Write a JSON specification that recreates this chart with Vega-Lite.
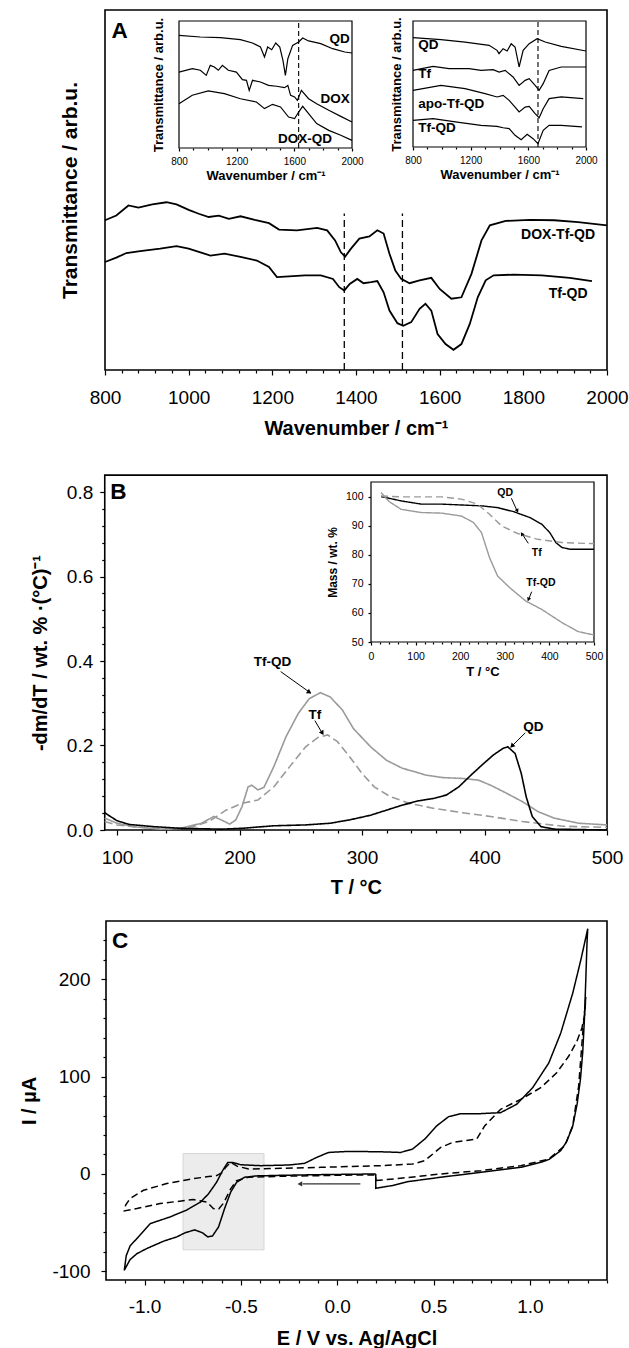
{
"$schema":"https://vega.github.io/schema/vega-lite/v6.json",
"width":629,"height":1348,"autosize":{"type":"none"},"padding":0,"background":"white",
"config":{"view":{"stroke":null},"font":"Liberation Sans",
 "axis":{"labelFont":"Liberation Sans","titleFont":"Liberation Sans","labelColor":"black","titleColor":"black","tickColor":"black","domainColor":"black","grid":false,"minExtent":0,"labelOverlap":false,"labelFlush":false,"tickWidth":1.2},
 "text":{"font":"Liberation Sans","fontWeight":"bold","color":"black"}},
"datasets":{
"aMain":[
{"s":"DOX-Tf-QD","w":800,"t":41.6},{"s":"DOX-Tf-QD","w":827,"t":42.9},{"s":"DOX-Tf-QD","w":856,"t":45.7},{"s":"DOX-Tf-QD","w":880,"t":45.1},{"s":"DOX-Tf-QD","w":913,"t":46.0},{"s":"DOX-Tf-QD","w":947,"t":46.6},{"s":"DOX-Tf-QD","w":971,"t":46.0},{"s":"DOX-Tf-QD","w":1000,"t":44.5},{"s":"DOX-Tf-QD","w":1024,"t":43.4},{"s":"DOX-Tf-QD","w":1048,"t":42.5},{"s":"DOX-Tf-QD","w":1072,"t":42.9},{"s":"DOX-Tf-QD","w":1096,"t":42.0},{"s":"DOX-Tf-QD","w":1124,"t":42.7},{"s":"DOX-Tf-QD","w":1158,"t":41.7},{"s":"DOX-Tf-QD","w":1192,"t":40.8},{"s":"DOX-Tf-QD","w":1216,"t":39.0},{"s":"DOX-Tf-QD","w":1259,"t":38.8},{"s":"DOX-Tf-QD","w":1307,"t":39.5},{"s":"DOX-Tf-QD","w":1331,"t":38.8},{"s":"DOX-Tf-QD","w":1350,"t":36.0},{"s":"DOX-Tf-QD","w":1364,"t":32.7},{"s":"DOX-Tf-QD","w":1374,"t":31.5},{"s":"DOX-Tf-QD","w":1388,"t":33.7},{"s":"DOX-Tf-QD","w":1408,"t":36.5},{"s":"DOX-Tf-QD","w":1432,"t":37.1},{"s":"DOX-Tf-QD","w":1451,"t":38.8},{"s":"DOX-Tf-QD","w":1466,"t":37.9},{"s":"DOX-Tf-QD","w":1480,"t":32.3},{"s":"DOX-Tf-QD","w":1494,"t":27.6},{"s":"DOX-Tf-QD","w":1508,"t":25.3},{"s":"DOX-Tf-QD","w":1528,"t":24.1},{"s":"DOX-Tf-QD","w":1552,"t":24.9},{"s":"DOX-Tf-QD","w":1580,"t":25.6},{"s":"DOX-Tf-QD","w":1600,"t":22.5},{"s":"DOX-Tf-QD","w":1628,"t":19.8},{"s":"DOX-Tf-QD","w":1652,"t":20.2},{"s":"DOX-Tf-QD","w":1676,"t":26.7},{"s":"DOX-Tf-QD","w":1700,"t":36.0},{"s":"DOX-Tf-QD","w":1720,"t":40.2},{"s":"DOX-Tf-QD","w":1758,"t":41.4},{"s":"DOX-Tf-QD","w":1816,"t":41.7},{"s":"DOX-Tf-QD","w":1874,"t":41.6},{"s":"DOX-Tf-QD","w":1931,"t":41.1},{"s":"DOX-Tf-QD","w":2000,"t":40.2},
{"s":"Tf-QD","w":800,"t":30.0},{"s":"Tf-QD","w":827,"t":31.2},{"s":"Tf-QD","w":851,"t":32.5},{"s":"Tf-QD","w":884,"t":33.0},{"s":"Tf-QD","w":932,"t":33.7},{"s":"Tf-QD","w":971,"t":34.4},{"s":"Tf-QD","w":1000,"t":33.7},{"s":"Tf-QD","w":1028,"t":32.7},{"s":"Tf-QD","w":1052,"t":31.8},{"s":"Tf-QD","w":1086,"t":32.3},{"s":"Tf-QD","w":1124,"t":31.4},{"s":"Tf-QD","w":1163,"t":30.4},{"s":"Tf-QD","w":1192,"t":28.6},{"s":"Tf-QD","w":1211,"t":25.8},{"s":"Tf-QD","w":1240,"t":26.0},{"s":"Tf-QD","w":1278,"t":26.3},{"s":"Tf-QD","w":1316,"t":26.3},{"s":"Tf-QD","w":1345,"t":25.3},{"s":"Tf-QD","w":1360,"t":23.0},{"s":"Tf-QD","w":1372,"t":22.1},{"s":"Tf-QD","w":1385,"t":23.9},{"s":"Tf-QD","w":1403,"t":25.3},{"s":"Tf-QD","w":1418,"t":24.1},{"s":"Tf-QD","w":1436,"t":24.4},{"s":"Tf-QD","w":1451,"t":24.7},{"s":"Tf-QD","w":1466,"t":21.6},{"s":"Tf-QD","w":1480,"t":16.5},{"s":"Tf-QD","w":1499,"t":13.0},{"s":"Tf-QD","w":1513,"t":12.3},{"s":"Tf-QD","w":1532,"t":13.3},{"s":"Tf-QD","w":1552,"t":17.0},{"s":"Tf-QD","w":1566,"t":18.4},{"s":"Tf-QD","w":1580,"t":16.5},{"s":"Tf-QD","w":1595,"t":10.0},{"s":"Tf-QD","w":1614,"t":7.2},{"s":"Tf-QD","w":1633,"t":5.6},{"s":"Tf-QD","w":1652,"t":7.2},{"s":"Tf-QD","w":1672,"t":12.8},{"s":"Tf-QD","w":1691,"t":20.2},{"s":"Tf-QD","w":1710,"t":24.9},{"s":"Tf-QD","w":1729,"t":26.3},{"s":"Tf-QD","w":1777,"t":26.5},{"s":"Tf-QD","w":1844,"t":26.3},{"s":"Tf-QD","w":1911,"t":25.6},{"s":"Tf-QD","w":1964,"t":24.7}],
"aMainLab":[{"w":1883,"t":37.4,"label":"DOX-Tf-QD"},{"w":1907,"t":21.2,"label":"Tf-QD"}],
"aIn1":[
{"s":"QD","w":800,"t":88.7},{"s":"QD","w":948,"t":87.4},{"s":"QD","w":1087,"t":86.9},{"s":"QD","w":1226,"t":85.3},{"s":"QD","w":1310,"t":82.7},{"s":"QD","w":1365,"t":79.5},{"s":"QD","w":1393,"t":71.7},{"s":"QD","w":1415,"t":79.5},{"s":"QD","w":1443,"t":77.4},{"s":"QD","w":1471,"t":82.7},{"s":"QD","w":1499,"t":79.5},{"s":"QD","w":1521,"t":69.0},{"s":"QD","w":1538,"t":57.2},{"s":"QD","w":1555,"t":70.3},{"s":"QD","w":1588,"t":80.8},{"s":"QD","w":1630,"t":83.5},{"s":"QD","w":1658,"t":86.6},{"s":"QD","w":1699,"t":84.3},{"s":"QD","w":1783,"t":82.2},{"s":"QD","w":1866,"t":78.2},{"s":"QD","w":1950,"t":75.6},{"s":"QD","w":2000,"t":74.8},
{"s":"DOX","w":800,"t":59.8},{"s":"DOX","w":892,"t":62.5},{"s":"DOX","w":948,"t":61.2},{"s":"DOX","w":989,"t":57.2},{"s":"DOX","w":1017,"t":65.1},{"s":"DOX","w":1045,"t":63.8},{"s":"DOX","w":1073,"t":61.2},{"s":"DOX","w":1101,"t":65.1},{"s":"DOX","w":1142,"t":61.2},{"s":"DOX","w":1198,"t":59.8},{"s":"DOX","w":1240,"t":53.8},{"s":"DOX","w":1268,"t":53.3},{"s":"DOX","w":1287,"t":45.4},{"s":"DOX","w":1310,"t":53.3},{"s":"DOX","w":1365,"t":52.0},{"s":"DOX","w":1421,"t":49.3},{"s":"DOX","w":1477,"t":48.6},{"s":"DOX","w":1532,"t":47.5},{"s":"DOX","w":1555,"t":49.3},{"s":"DOX","w":1574,"t":41.5},{"s":"DOX","w":1602,"t":40.2},{"s":"DOX","w":1621,"t":37.5},{"s":"DOX","w":1649,"t":45.4},{"s":"DOX","w":1699,"t":38.8},{"s":"DOX","w":1755,"t":34.9},{"s":"DOX","w":1839,"t":29.7},{"s":"DOX","w":1922,"t":24.9},{"s":"DOX","w":2000,"t":20.5},
{"s":"DOX-QD","w":800,"t":34.9},{"s":"DOX-QD","w":892,"t":41.5},{"s":"DOX-QD","w":1003,"t":44.9},{"s":"DOX-QD","w":1115,"t":42.8},{"s":"DOX-QD","w":1226,"t":38.8},{"s":"DOX-QD","w":1337,"t":36.2},{"s":"DOX-QD","w":1393,"t":31.0},{"s":"DOX-QD","w":1449,"t":34.4},{"s":"DOX-QD","w":1504,"t":32.3},{"s":"DOX-QD","w":1560,"t":24.4},{"s":"DOX-QD","w":1602,"t":23.1},{"s":"DOX-QD","w":1630,"t":28.3},{"s":"DOX-QD","w":1658,"t":32.8},{"s":"DOX-QD","w":1699,"t":27.0},{"s":"DOX-QD","w":1755,"t":19.2},{"s":"DOX-QD","w":1839,"t":13.9},{"s":"DOX-QD","w":1922,"t":10.0},{"s":"DOX-QD","w":2000,"t":6.0}],
"aIn1Lab":[{"w":1914,"t":86.1,"label":"QD"},{"w":1883,"t":38.8,"label":"DOX"},{"w":1674,"t":7.1,"label":"DOX-QD"}],
"aIn2":[
{"s":"QD","w":800,"t":86.8},{"s":"QD","w":994,"t":85.2},{"s":"QD","w":1161,"t":83.3},{"s":"QD","w":1328,"t":80.7},{"s":"QD","w":1383,"t":76.7},{"s":"QD","w":1397,"t":74.1},{"s":"QD","w":1425,"t":78.0},{"s":"QD","w":1453,"t":76.2},{"s":"QD","w":1481,"t":82.0},{"s":"QD","w":1508,"t":79.4},{"s":"QD","w":1536,"t":63.5},{"s":"QD","w":1564,"t":76.7},{"s":"QD","w":1606,"t":82.0},{"s":"QD","w":1661,"t":86.0},{"s":"QD","w":1717,"t":83.3},{"s":"QD","w":1828,"t":79.9},{"s":"QD","w":2000,"t":76.2},
{"s":"Tf","w":800,"t":60.8},{"s":"Tf","w":939,"t":64.0},{"s":"Tf","w":1050,"t":62.2},{"s":"Tf","w":1189,"t":62.2},{"s":"Tf","w":1272,"t":60.8},{"s":"Tf","w":1356,"t":61.4},{"s":"Tf","w":1397,"t":59.5},{"s":"Tf","w":1439,"t":60.8},{"s":"Tf","w":1494,"t":55.6},{"s":"Tf","w":1536,"t":48.9},{"s":"Tf","w":1578,"t":52.9},{"s":"Tf","w":1606,"t":54.2},{"s":"Tf","w":1647,"t":48.9},{"s":"Tf","w":1675,"t":45.0},{"s":"Tf","w":1703,"t":50.3},{"s":"Tf","w":1744,"t":60.8},{"s":"Tf","w":1828,"t":63.5},{"s":"Tf","w":2000,"t":63.5},
{"s":"apo-Tf-QD","w":800,"t":45.0},{"s":"apo-Tf-QD","w":994,"t":48.9},{"s":"apo-Tf-QD","w":1161,"t":46.3},{"s":"apo-Tf-QD","w":1300,"t":42.3},{"s":"apo-Tf-QD","w":1383,"t":39.7},{"s":"apo-Tf-QD","w":1425,"t":41.0},{"s":"apo-Tf-QD","w":1467,"t":37.0},{"s":"apo-Tf-QD","w":1508,"t":31.7},{"s":"apo-Tf-QD","w":1536,"t":27.8},{"s":"apo-Tf-QD","w":1578,"t":31.7},{"s":"apo-Tf-QD","w":1606,"t":32.3},{"s":"apo-Tf-QD","w":1647,"t":26.5},{"s":"apo-Tf-QD","w":1675,"t":23.3},{"s":"apo-Tf-QD","w":1703,"t":30.4},{"s":"apo-Tf-QD","w":1744,"t":38.4},{"s":"apo-Tf-QD","w":1828,"t":39.7},{"s":"apo-Tf-QD","w":1981,"t":38.4},
{"s":"Tf-QD","w":800,"t":21.2},{"s":"Tf-QD","w":939,"t":22.5},{"s":"Tf-QD","w":1106,"t":19.8},{"s":"Tf-QD","w":1272,"t":17.2},{"s":"Tf-QD","w":1383,"t":16.4},{"s":"Tf-QD","w":1425,"t":15.3},{"s":"Tf-QD","w":1467,"t":14.6},{"s":"Tf-QD","w":1508,"t":9.3},{"s":"Tf-QD","w":1550,"t":5.8},{"s":"Tf-QD","w":1592,"t":10.1},{"s":"Tf-QD","w":1633,"t":6.6},{"s":"Tf-QD","w":1667,"t":2.6},{"s":"Tf-QD","w":1703,"t":13.2},{"s":"Tf-QD","w":1744,"t":17.2},{"s":"Tf-QD","w":1828,"t":17.2},{"s":"Tf-QD","w":1972,"t":15.9}],
"aIn2Lab":[{"w":836,"t":80.7,"label":"QD"},{"w":836,"t":58.2,"label":"Tf"},{"w":836,"t":33.9,"label":"apo-Tf-QD"},{"w":836,"t":15.1,"label":"Tf-QD"}],
"bMain":[
{"s":"Tf-QD","T":90,"v":0.028},{"s":"Tf-QD","T":100,"v":0.016},{"s":"Tf-QD","T":113,"v":0.008},{"s":"Tf-QD","T":136,"v":0.002},{"s":"Tf-QD","T":152,"v":0.004},{"s":"Tf-QD","T":169,"v":0.016},{"s":"Tf-QD","T":179,"v":0.032},{"s":"Tf-QD","T":185,"v":0.024},{"s":"Tf-QD","T":192,"v":0.014},{"s":"Tf-QD","T":197,"v":0.024},{"s":"Tf-QD","T":202,"v":0.055},{"s":"Tf-QD","T":207,"v":0.102},{"s":"Tf-QD","T":210,"v":0.106},{"s":"Tf-QD","T":215,"v":0.095},{"s":"Tf-QD","T":220,"v":0.101},{"s":"Tf-QD","T":228,"v":0.150},{"s":"Tf-QD","T":238,"v":0.221},{"s":"Tf-QD","T":248,"v":0.276},{"s":"Tf-QD","T":257,"v":0.311},{"s":"Tf-QD","T":266,"v":0.325},{"s":"Tf-QD","T":274,"v":0.315},{"s":"Tf-QD","T":284,"v":0.284},{"s":"Tf-QD","T":293,"v":0.240},{"s":"Tf-QD","T":307,"v":0.197},{"s":"Tf-QD","T":320,"v":0.165},{"s":"Tf-QD","T":333,"v":0.146},{"s":"Tf-QD","T":343,"v":0.138},{"s":"Tf-QD","T":352,"v":0.130},{"s":"Tf-QD","T":366,"v":0.124},{"s":"Tf-QD","T":382,"v":0.122},{"s":"Tf-QD","T":395,"v":0.118},{"s":"Tf-QD","T":405,"v":0.106},{"s":"Tf-QD","T":418,"v":0.087},{"s":"Tf-QD","T":431,"v":0.067},{"s":"Tf-QD","T":444,"v":0.043},{"s":"Tf-QD","T":457,"v":0.028},{"s":"Tf-QD","T":477,"v":0.016},{"s":"Tf-QD","T":500,"v":0.012},
{"s":"Tf","T":90,"v":0.020},{"s":"Tf","T":100,"v":0.012},{"s":"Tf","T":120,"v":0.006},{"s":"Tf","T":143,"v":0.002},{"s":"Tf","T":162,"v":0.008},{"s":"Tf","T":175,"v":0.020},{"s":"Tf","T":189,"v":0.047},{"s":"Tf","T":202,"v":0.063},{"s":"Tf","T":215,"v":0.071},{"s":"Tf","T":228,"v":0.102},{"s":"Tf","T":241,"v":0.150},{"s":"Tf","T":254,"v":0.197},{"s":"Tf","T":264,"v":0.219},{"s":"Tf","T":272,"v":0.225},{"s":"Tf","T":280,"v":0.209},{"s":"Tf","T":290,"v":0.173},{"s":"Tf","T":300,"v":0.134},{"s":"Tf","T":310,"v":0.102},{"s":"Tf","T":323,"v":0.079},{"s":"Tf","T":339,"v":0.063},{"s":"Tf","T":359,"v":0.051},{"s":"Tf","T":382,"v":0.041},{"s":"Tf","T":405,"v":0.032},{"s":"Tf","T":431,"v":0.020},{"s":"Tf","T":464,"v":0.009},{"s":"Tf","T":500,"v":0.006},
{"s":"QD","T":90,"v":0.041},{"s":"QD","T":93,"v":0.035},{"s":"QD","T":100,"v":0.022},{"s":"QD","T":110,"v":0.013},{"s":"QD","T":130,"v":0.008},{"s":"QD","T":152,"v":0.004},{"s":"QD","T":185,"v":0.002},{"s":"QD","T":202,"v":0.004},{"s":"QD","T":228,"v":0.010},{"s":"QD","T":254,"v":0.012},{"s":"QD","T":274,"v":0.016},{"s":"QD","T":290,"v":0.024},{"s":"QD","T":307,"v":0.035},{"s":"QD","T":320,"v":0.047},{"s":"QD","T":333,"v":0.059},{"s":"QD","T":346,"v":0.069},{"s":"QD","T":359,"v":0.075},{"s":"QD","T":369,"v":0.083},{"s":"QD","T":379,"v":0.102},{"s":"QD","T":389,"v":0.130},{"s":"QD","T":398,"v":0.154},{"s":"QD","T":407,"v":0.177},{"s":"QD","T":415,"v":0.193},{"s":"QD","T":419,"v":0.197},{"s":"QD","T":425,"v":0.181},{"s":"QD","T":430,"v":0.134},{"s":"QD","T":434,"v":0.079},{"s":"QD","T":439,"v":0.032},{"s":"QD","T":446,"v":0.008},{"s":"QD","T":457,"v":0.002},{"s":"QD","T":500,"v":0.0}],
"bMainLab":[{"T":227,"v":0.398,"label":"Tf-QD"},{"T":261.5,"v":0.272,"label":"Tf"},{"T":439.8,"v":0.243,"label":"QD"}],
"bMainArr":[{"T":233.6,"v":0.375,"T2":258.2,"v2":0.324},{"T":261.5,"v":0.259,"T2":268,"v2":0.227},{"T":433.3,"v":0.230,"T2":421.8,"v2":0.197}],
"bIn":[
{"s":"QD","T":22.5,"m":100},{"s":"QD","T":67.6,"m":98.5},{"s":"QD","T":112.6,"m":97.4},{"s":"QD","T":157.7,"m":97.4},{"s":"QD","T":202.7,"m":97.1},{"s":"QD","T":247.7,"m":96.8},{"s":"QD","T":283.8,"m":96.2},{"s":"QD","T":319.8,"m":94.8},{"s":"QD","T":355.9,"m":92.8},{"s":"QD","T":382.9,"m":90.5},{"s":"QD","T":400.9,"m":87.6},{"s":"QD","T":414.4,"m":84.2},{"s":"QD","T":427.9,"m":82.5},{"s":"QD","T":446,"m":81.9},{"s":"QD","T":500,"m":81.9},
{"s":"Tf","T":22.5,"m":100.2},{"s":"Tf","T":67.6,"m":99.9},{"s":"Tf","T":157.7,"m":99.9},{"s":"Tf","T":202.7,"m":99.1},{"s":"Tf","T":238.7,"m":97.4},{"s":"Tf","T":265.8,"m":93.9},{"s":"Tf","T":292.8,"m":89.9},{"s":"Tf","T":328.8,"m":87.3},{"s":"Tf","T":373.9,"m":85.3},{"s":"Tf","T":427.9,"m":84.2},{"s":"Tf","T":500,"m":83.8},
{"s":"Tf-QD","T":22.5,"m":101.4},{"s":"Tf-QD","T":40.5,"m":98.3},{"s":"Tf-QD","T":67.6,"m":95.6},{"s":"Tf-QD","T":112.6,"m":94.5},{"s":"Tf-QD","T":157.7,"m":94.3},{"s":"Tf-QD","T":202.7,"m":93.3},{"s":"Tf-QD","T":229.7,"m":91.1},{"s":"Tf-QD","T":247.7,"m":87.6},{"s":"Tf-QD","T":265.8,"m":79.0},{"s":"Tf-QD","T":283.8,"m":72.7},{"s":"Tf-QD","T":310.8,"m":68.7},{"s":"Tf-QD","T":346.8,"m":64.1},{"s":"Tf-QD","T":382.9,"m":61.2},{"s":"Tf-QD","T":427.9,"m":56.7},{"s":"Tf-QD","T":463.9,"m":53.6},{"s":"Tf-QD","T":500,"m":52.4}],
"bInLab":[{"T":301,"m":101.1,"label":"QD"},{"T":371.5,"m":80.5,"label":"Tf"},{"T":381,"m":70.4,"label":"Tf-QD"}],
"bInArr":[{"T":314.8,"m":99.4,"T2":328.5,"m2":94.8},{"T":352.7,"m":83.9,"T2":337.9,"m2":87.4},{"T":360.3,"m":67.3,"T2":352.7,"m2":64.4}],
"cv":[
{"s":"c1","i":1,"E":0.2,"I":0},{"s":"c1","i":2,"E":-0.086,"I":-0.7},{"s":"c1","i":3,"E":-0.294,"I":-1.4},{"s":"c1","i":4,"E":-0.418,"I":-2.0},{"s":"c1","i":5,"E":-0.481,"I":-3.4},{"s":"c1","i":6,"E":-0.522,"I":-8.5},{"s":"c1","i":7,"E":-0.553,"I":-18.7},{"s":"c1","i":8,"E":-0.585,"I":-35.8},{"s":"c1","i":9,"E":-0.616,"I":-54.5},{"s":"c1","i":10,"E":-0.647,"I":-63.7},{"s":"c1","i":11,"E":-0.672,"I":-64.7},{"s":"c1","i":12,"E":-0.699,"I":-60.5},{"s":"c1","i":13,"E":-0.74,"I":-57.5},{"s":"c1","i":14,"E":-0.79,"I":-60.5},{"s":"c1","i":15,"E":-0.833,"I":-64.7},{"s":"c1","i":16,"E":-0.9,"I":-69},{"s":"c1","i":17,"E":-0.989,"I":-76.7},{"s":"c1","i":18,"E":-1.04,"I":-82},{"s":"c1","i":19,"E":-1.075,"I":-88},{"s":"c1","i":20,"E":-1.105,"I":-99},{"s":"c1","i":21,"E":-1.095,"I":-84},{"s":"c1","i":22,"E":-1.075,"I":-74},{"s":"c1","i":23,"E":-1.04,"I":-66.4},{"s":"c1","i":24,"E":-0.97,"I":-51},{"s":"c1","i":25,"E":-0.868,"I":-44.2},{"s":"c1","i":26,"E":-0.78,"I":-37},{"s":"c1","i":27,"E":-0.71,"I":-29},{"s":"c1","i":28,"E":-0.668,"I":-20.4},{"s":"c1","i":29,"E":-0.626,"I":-8.5},{"s":"c1","i":30,"E":-0.595,"I":3.4},{"s":"c1","i":31,"E":-0.568,"I":11.9},{"s":"c1","i":32,"E":-0.543,"I":11.9},{"s":"c1","i":33,"E":-0.502,"I":9.5},{"s":"c1","i":34,"E":-0.398,"I":8.5},{"s":"c1","i":35,"E":-0.252,"I":9.2},{"s":"c1","i":36,"E":-0.169,"I":10.9},{"s":"c1","i":37,"E":-0.107,"I":17.0},{"s":"c1","i":38,"E":-0.045,"I":22.1},{"s":"c1","i":39,"E":0.059,"I":23.2},{"s":"c1","i":40,"E":0.225,"I":22.8},{"s":"c1","i":41,"E":0.329,"I":22.1},{"s":"c1","i":42,"E":0.391,"I":25.6},{"s":"c1","i":43,"E":0.454,"I":35.8},{"s":"c1","i":44,"E":0.516,"I":49.4},{"s":"c1","i":45,"E":0.578,"I":58.9},{"s":"c1","i":46,"E":0.641,"I":62.0},{"s":"c1","i":47,"E":0.745,"I":62.0},{"s":"c1","i":48,"E":0.848,"I":63.0},{"s":"c1","i":49,"E":0.931,"I":71.6},{"s":"c1","i":50,"E":1.014,"I":88.6},{"s":"c1","i":51,"E":1.098,"I":114.1},{"s":"c1","i":52,"E":1.16,"I":144.8},{"s":"c1","i":53,"E":1.222,"I":185.7},{"s":"c1","i":54,"E":1.264,"I":219.8},{"s":"c1","i":55,"E":1.3,"I":252},{"s":"c1","i":56,"E":1.296,"I":236},{"s":"c1","i":57,"E":1.29,"I":200},{"s":"c1","i":58,"E":1.283,"I":160},{"s":"c1","i":59,"E":1.274,"I":125},{"s":"c1","i":60,"E":1.262,"I":97},{"s":"c1","i":61,"E":1.245,"I":72},{"s":"c1","i":62,"E":1.222,"I":49},{"s":"c1","i":63,"E":1.19,"I":33},{"s":"c1","i":64,"E":1.16,"I":24},{"s":"c1","i":65,"E":1.1,"I":15},{"s":"c1","i":66,"E":1.056,"I":11.9},{"s":"c1","i":67,"E":0.952,"I":6.8},{"s":"c1","i":68,"E":0.745,"I":1.7},{"s":"c1","i":69,"E":0.537,"I":-3.4},{"s":"c1","i":70,"E":0.37,"I":-7.8},{"s":"c1","i":71,"E":0.287,"I":-11.9},{"s":"c1","i":72,"E":0.2,"I":-14.7},{"s":"c1","i":73,"E":0.2,"I":0},
{"s":"c2","i":1,"E":0.2,"I":-6.8},{"s":"c2","i":2,"E":0.329,"I":-4.4},{"s":"c2","i":3,"E":0.537,"I":0},{"s":"c2","i":4,"E":0.745,"I":3.4},{"s":"c2","i":5,"E":0.952,"I":8.5},{"s":"c2","i":6,"E":1.098,"I":15.3},{"s":"c2","i":7,"E":1.181,"I":29},{"s":"c2","i":8,"E":1.222,"I":49.4},{"s":"c2","i":9,"E":1.253,"I":90.3},{"s":"c2","i":10,"E":1.274,"I":144.8},{"s":"c2","i":11,"E":1.29,"I":182},{"s":"c2","i":12,"E":1.285,"I":165},{"s":"c2","i":13,"E":1.27,"I":150},{"s":"c2","i":14,"E":1.243,"I":136},{"s":"c2","i":15,"E":1.201,"I":121},{"s":"c2","i":16,"E":1.139,"I":104},{"s":"c2","i":17,"E":1.056,"I":88.6},{"s":"c2","i":18,"E":0.952,"I":76.7},{"s":"c2","i":19,"E":0.848,"I":66.4},{"s":"c2","i":20,"E":0.765,"I":49.4},{"s":"c2","i":21,"E":0.724,"I":35.8},{"s":"c2","i":22,"E":0.661,"I":34.1},{"s":"c2","i":23,"E":0.599,"I":32.4},{"s":"c2","i":24,"E":0.537,"I":27.3},{"s":"c2","i":25,"E":0.454,"I":13.6},{"s":"c2","i":26,"E":0.391,"I":10.2},{"s":"c2","i":27,"E":0.225,"I":8.5},{"s":"c2","i":28,"E":-0.086,"I":6.8},{"s":"c2","i":29,"E":-0.294,"I":5.8},{"s":"c2","i":30,"E":-0.46,"I":5.1},{"s":"c2","i":31,"E":-0.52,"I":8},{"s":"c2","i":32,"E":-0.553,"I":12},{"s":"c2","i":33,"E":-0.578,"I":7},{"s":"c2","i":34,"E":-0.6,"I":1},{"s":"c2","i":35,"E":-0.626,"I":-1.7},{"s":"c2","i":36,"E":-0.668,"I":-2.7},{"s":"c2","i":37,"E":-0.751,"I":-5},{"s":"c2","i":38,"E":-0.885,"I":-9.9},{"s":"c2","i":39,"E":-1.006,"I":-16.8},{"s":"c2","i":40,"E":-1.075,"I":-25.3},{"s":"c2","i":41,"E":-1.098,"I":-32},{"s":"c2","i":42,"E":-1.105,"I":-38},{"s":"c2","i":43,"E":-1.04,"I":-35.6},{"s":"c2","i":44,"E":-0.92,"I":-30.4},{"s":"c2","i":45,"E":-0.747,"I":-26.3},{"s":"c2","i":46,"E":-0.677,"I":-28.8},{"s":"c2","i":47,"E":-0.643,"I":-35.6},{"s":"c2","i":48,"E":-0.615,"I":-36},{"s":"c2","i":49,"E":-0.59,"I":-30},{"s":"c2","i":50,"E":-0.553,"I":-15.3},{"s":"c2","i":51,"E":-0.522,"I":-6.8},{"s":"c2","i":52,"E":-0.46,"I":-3.4},{"s":"c2","i":53,"E":-0.294,"I":-2.4},{"s":"c2","i":54,"E":-0.086,"I":-1.7},{"s":"c2","i":55,"E":0.121,"I":-1.0},{"s":"c2","i":56,"E":0.2,"I":-1.0},{"s":"c2","i":57,"E":0.2,"I":-6.8}]
},
"resolve":{"scale":{"x":"independent","y":"independent","color":"independent","strokeDash":"independent"},"axis":{"x":"independent","y":"independent"}},
"layer":[
{"layer":[
 {"data":{"values":[{}]},"mark":{"type":"rect","fill":"white","fillOpacity":0,"stroke":"black","strokeWidth":1.6},
  "encoding":{
   "x":{"datum":800,"type":"quantitative","scale":{"domain":[800,2000],"range":[105,607],"nice":false,"zero":false},"axis":{"orient":"bottom","offset":-978,"domain":false,"values":[800,1000,1200,1400,1600,1800,2000],"format":"d","tickSize":5,"labelPadding":13,"labelFontSize":19,"title":"Wavenumber / cm⁻¹","titleFontSize":20,"titleFontWeight":"bold","titlePadding":11}},
   "x2":{"datum":2000},
   "y":{"datum":0,"type":"quantitative","scale":{"domain":[0,100],"range":[370,10],"nice":false,"zero":false},"axis":{"orient":"left","offset":-105,"domain":false,"ticks":false,"labels":false,"title":"Transmittance / arb.u.","titleFontSize":21,"titleFontWeight":"bold","titlePadding":25}},
   "y2":{"datum":100}}},
 {"data":{"name":"aMain"},"mark":{"type":"line","color":"black","strokeWidth":1.8},
  "encoding":{"x":{"field":"w","type":"quantitative","axis":{"orient":"bottom","offset":-978,"domain":false,"values":[840,880,920,960,1040,1080,1120,1160,1240,1280,1320,1360,1440,1480,1520,1560,1640,1680,1720,1760,1840,1880,1920,1960],"labels":false,"tickSize":3,"title":null}},
   "y":{"field":"t","type":"quantitative","axis":null},"detail":{"field":"s"}}},
 {"data":{"values":[{"w":1372},{"w":1511}]},"mark":{"type":"rule","color":"black","strokeWidth":1.3,"strokeDash":[7,4]},
  "encoding":{"x":{"field":"w","type":"quantitative","axis":null},"y":{"datum":0,"type":"quantitative","axis":null},"y2":{"datum":43.5}}},
 {"data":{"name":"aMainLab"},"mark":{"type":"text","fontSize":14},
  "encoding":{"x":{"field":"w","type":"quantitative","axis":null},"y":{"field":"t","type":"quantitative","axis":null},"text":{"field":"label"}}},
 {"data":{"values":[{}]},"mark":{"type":"text","fontSize":22.5,"text":"A"},
  "encoding":{"x":{"datum":834.7,"type":"quantitative","axis":null},"y":{"datum":94.2,"type":"quantitative","axis":null}}}
],"resolve":{"axis":{"x":"independent","y":"independent"}}},
{"layer":[
 {"data":{"values":[{}]},"mark":{"type":"rect","fill":"white","stroke":"black","strokeWidth":1.2},
  "encoding":{
   "x":{"datum":800,"type":"quantitative","scale":{"domain":[800,2000],"range":[179,352],"nice":false,"zero":false},"axis":{"orient":"bottom","offset":-1200,"domain":false,"values":[800,1200,1600,2000],"format":"d","tickSize":3,"labelPadding":5,"labelFontSize":10,"title":"Wavenumber / cm⁻¹","titleFontSize":13,"titleFontWeight":"bold","titlePadding":3}},
   "x2":{"datum":2000},
   "y":{"datum":0,"type":"quantitative","scale":{"domain":[0,100],"range":[148,21],"nice":false,"zero":false},"axis":{"orient":"left","offset":-179,"domain":false,"ticks":false,"labels":false,"title":"Transmittance / arb.u.","titleFontSize":13,"titleFontWeight":"bold","titlePadding":13.5}},
   "y2":{"datum":100}}},
 {"data":{"name":"aIn1"},"mark":{"type":"line","color":"black","strokeWidth":1.2},
  "encoding":{"x":{"field":"w","type":"quantitative","axis":{"orient":"bottom","offset":-1200,"domain":false,"values":[900,1000,1100,1300,1400,1500,1700,1800,1900],"labels":false,"tickSize":2,"title":null}},
   "y":{"field":"t","type":"quantitative","axis":null},"detail":{"field":"s"}}},
 {"data":{"values":[{"w":1630}]},"mark":{"type":"rule","color":"black","strokeWidth":1.1,"strokeDash":[5,3]},
  "encoding":{"x":{"field":"w","type":"quantitative","axis":null},"y":{"datum":0,"type":"quantitative","axis":null},"y2":{"datum":100}}},
 {"data":{"name":"aIn1Lab"},"mark":{"type":"text","fontSize":13.5},
  "encoding":{"x":{"field":"w","type":"quantitative","axis":null},"y":{"field":"t","type":"quantitative","axis":null},"text":{"field":"label"}}}
],"resolve":{"axis":{"x":"independent","y":"independent"}}},
{"layer":[
 {"data":{"values":[{}]},"mark":{"type":"rect","fill":"white","stroke":"black","strokeWidth":1.2},
  "encoding":{
   "x":{"datum":800,"type":"quantitative","scale":{"domain":[800,2000],"range":[413,586],"nice":false,"zero":false},"axis":{"orient":"bottom","offset":-1201,"domain":false,"values":[800,1200,1600,2000],"format":"d","tickSize":3,"labelPadding":5,"labelFontSize":10,"title":"Wavenumber / cm⁻¹","titleFontSize":13,"titleFontWeight":"bold","titlePadding":3}},
   "x2":{"datum":2000},
   "y":{"datum":0,"type":"quantitative","scale":{"domain":[0,100],"range":[147,21],"nice":false,"zero":false},"axis":{"orient":"left","offset":-413,"domain":false,"ticks":false,"labels":false,"title":"Transmittance / arb.u.","titleFontSize":13,"titleFontWeight":"bold","titlePadding":9.5}},
   "y2":{"datum":100}}},
 {"data":{"name":"aIn2"},"mark":{"type":"line","color":"black","strokeWidth":1.2},
  "encoding":{"x":{"field":"w","type":"quantitative","axis":{"orient":"bottom","offset":-1201,"domain":false,"values":[900,1000,1100,1300,1400,1500,1700,1800,1900],"labels":false,"tickSize":2,"title":null}},
   "y":{"field":"t","type":"quantitative","axis":null},"detail":{"field":"s"}}},
 {"data":{"values":[{"w":1667}]},"mark":{"type":"rule","color":"black","strokeWidth":1.1,"strokeDash":[5,3]},
  "encoding":{"x":{"field":"w","type":"quantitative","axis":null},"y":{"datum":0,"type":"quantitative","axis":null},"y2":{"datum":100}}},
 {"data":{"name":"aIn2Lab"},"mark":{"type":"text","fontSize":13.5,"align":"left"},
  "encoding":{"x":{"field":"w","type":"quantitative","axis":null},"y":{"field":"t","type":"quantitative","axis":null},"text":{"field":"label"}}}
],"resolve":{"axis":{"x":"independent","y":"independent"}}},
{"layer":[
 {"data":{"values":[{}]},"mark":{"type":"rect","fill":"white","fillOpacity":0,"stroke":"black","strokeWidth":1.6},
  "encoding":{
   "x":{"datum":90,"type":"quantitative","scale":{"domain":[90,500],"range":[104.75,607],"nice":false,"zero":false},"axis":{"orient":"bottom","offset":-518,"domain":false,"values":[100,200,300,400,500],"format":"d","tickSize":5,"labelPadding":13,"labelFontSize":19,"title":"T / °C","titleFontSize":20,"titleFontWeight":"bold","titlePadding":10}},
   "x2":{"datum":500},
   "y":{"datum":0,"type":"quantitative","scale":{"domain":[0,0.84],"range":[830,475.1],"nice":false,"zero":false},"axis":{"orient":"left","offset":-104.75,"domain":false,"values":[0,0.2,0.4,0.6,0.8],"format":".1f","tickSize":5,"labelPadding":7,"labelFontSize":19,"title":"-dm/dT / wt. % ·(°C)⁻¹","titleFontSize":20,"titleFontWeight":"bold","titlePadding":16}},
   "y2":{"datum":0.84}}},
 {"data":{"name":"bMain"},"mark":{"type":"line","strokeWidth":1.6},
  "encoding":{"x":{"field":"T","type":"quantitative","axis":{"orient":"bottom","offset":-518,"domain":false,"values":[120,140,160,180,220,240,260,280,320,340,360,380,420,440,460,480],"labels":false,"tickSize":3,"title":null}},
   "y":{"field":"v","type":"quantitative","axis":{"orient":"left","offset":-104.75,"domain":false,"values":[0.04,0.08,0.12,0.16,0.24,0.28,0.32,0.36,0.44,0.48,0.52,0.56,0.64,0.68,0.72,0.76],"labels":false,"tickSize":3,"title":null}},
   "color":{"field":"s","type":"nominal","scale":{"domain":["QD","Tf","Tf-QD"],"range":["black","#9a9a9a","#9a9a9a"]},"legend":null},
   "strokeDash":{"field":"s","type":"nominal","scale":{"domain":["QD","Tf","Tf-QD"],"range":[[1,0],[8,4],[1,0]]},"legend":null}}},
 {"data":{"name":"bMainLab"},"mark":{"type":"text","fontSize":13.5},
  "encoding":{"x":{"field":"T","type":"quantitative","axis":null},"y":{"field":"v","type":"quantitative","axis":null},"text":{"field":"label"}}},
 {"data":{"name":"bMainArr"},"mark":{"type":"rule","color":"black","strokeWidth":1},
  "encoding":{"x":{"field":"T","type":"quantitative","axis":null},"y":{"field":"v","type":"quantitative","axis":null},"x2":{"field":"T2"},"y2":{"field":"v2"}}},
 {"data":{"values":[{}]},"mark":{"type":"point","shape":"triangle","filled":true,"color":"black","opacity":1,"size":28,"angle":125},
  "encoding":{"x":{"datum":256.5,"type":"quantitative","axis":null},"y":{"datum":0.327,"type":"quantitative","axis":null}}},
 {"data":{"values":[{}]},"mark":{"type":"point","shape":"triangle","filled":true,"color":"black","opacity":1,"size":28,"angle":149},
  "encoding":{"x":{"datum":267.3,"type":"quantitative","axis":null},"y":{"datum":0.231,"type":"quantitative","axis":null}}},
 {"data":{"values":[{}]},"mark":{"type":"point","shape":"triangle","filled":true,"color":"black","opacity":1,"size":28,"angle":225},
  "encoding":{"x":{"datum":422.8,"type":"quantitative","axis":null},"y":{"datum":0.200,"type":"quantitative","axis":null}}},
 {"data":{"values":[{}]},"mark":{"type":"text","fontSize":22.5,"text":"B"},
  "encoding":{"x":{"datum":101.1,"type":"quantitative","axis":null},"y":{"datum":0.8,"type":"quantitative","axis":null}}}
],"resolve":{"axis":{"x":"independent","y":"independent"}}},
{"layer":[
 {"data":{"values":[{}]},"mark":{"type":"rect","fill":"white","stroke":"black","strokeWidth":1.2},
  "encoding":{
   "x":{"datum":0,"type":"quantitative","scale":{"domain":[0,500],"range":[371,594],"nice":false,"zero":false},"axis":{"orient":"bottom","offset":-706,"domain":false,"values":[0,100,200,300,400,500],"format":"d","tickSize":3,"labelPadding":6,"labelFontSize":10.5,"title":"T / °C","titleFontSize":13,"titleFontWeight":"bold","titlePadding":4}},
   "x2":{"datum":500},
   "y":{"datum":50,"type":"quantitative","scale":{"domain":[50,105],"range":[642,482],"nice":false,"zero":false},"axis":{"orient":"left","offset":-371,"domain":false,"values":[50,60,70,80,90,100],"format":"d","tickSize":3,"labelPadding":5,"labelFontSize":10.5,"title":"Mass / wt. %","titleFontSize":12,"titleFontWeight":"bold","titlePadding":6}},
   "y2":{"datum":105}}},
 {"data":{"name":"bIn"},"mark":{"type":"line","strokeWidth":1.4},
  "encoding":{"x":{"field":"T","type":"quantitative","axis":{"orient":"bottom","offset":-706,"domain":false,"values":[20,40,60,80,120,140,160,180,220,240,260,280,320,340,360,380,420,440,460,480],"labels":false,"tickSize":2,"title":null}},
   "y":{"field":"m","type":"quantitative","axis":null},
   "color":{"field":"s","type":"nominal","scale":{"domain":["QD","Tf","Tf-QD"],"range":["black","#9a9a9a","#9a9a9a"]},"legend":null},
   "strokeDash":{"field":"s","type":"nominal","scale":{"domain":["QD","Tf","Tf-QD"],"range":[[1,0],[7,4],[1,0]]},"legend":null}}},
 {"data":{"name":"bInLab"},"mark":{"type":"text","fontSize":10.5},
  "encoding":{"x":{"field":"T","type":"quantitative","axis":null},"y":{"field":"m","type":"quantitative","axis":null},"text":{"field":"label"}}},
 {"data":{"name":"bInArr"},"mark":{"type":"rule","color":"black","strokeWidth":1},
  "encoding":{"x":{"field":"T","type":"quantitative","axis":null},"y":{"field":"m","type":"quantitative","axis":null},"x2":{"field":"T2"},"y2":{"field":"m2"}}},
 {"data":{"values":[{}]},"mark":{"type":"point","shape":"triangle","filled":true,"color":"black","opacity":1,"size":18,"angle":155},
  "encoding":{"x":{"datum":327.5,"type":"quantitative","axis":null},"y":{"datum":95.3,"type":"quantitative","axis":null}}},
 {"data":{"values":[{}]},"mark":{"type":"point","shape":"triangle","filled":true,"color":"black","opacity":1,"size":18,"angle":327},
  "encoding":{"x":{"datum":339,"type":"quantitative","axis":null},"y":{"datum":87.0,"type":"quantitative","axis":null}}},
 {"data":{"values":[{}]},"mark":{"type":"point","shape":"triangle","filled":true,"color":"black","opacity":1,"size":18,"angle":202},
  "encoding":{"x":{"datum":353.5,"type":"quantitative","axis":null},"y":{"datum":64.8,"type":"quantitative","axis":null}}}
],"resolve":{"axis":{"x":"independent","y":"independent"}}},
{"layer":[
 {"data":{"values":[{}]},"mark":{"type":"rect","fill":"#ececec","stroke":"#d6d6d6","strokeWidth":1},
  "encoding":{
   "x":{"datum":-0.8,"type":"quantitative","scale":{"domain":[-1.2,1.4],"range":[106,607],"nice":false,"zero":false},"axis":null},
   "x2":{"datum":-0.38},
   "y":{"datum":-78,"type":"quantitative","scale":{"domain":[-109,260],"range":[1280,921],"nice":false,"zero":false},"axis":null},
   "y2":{"datum":21}}},
 {"data":{"values":[{}]},"mark":{"type":"rect","fill":"white","fillOpacity":0,"stroke":"black","strokeWidth":1.6},
  "encoding":{
   "x":{"datum":-1.2,"type":"quantitative","axis":{"orient":"bottom","offset":-68,"domain":false,"values":[-1,-0.5,0,0.5,1],"labelExpr":"datum.value < 0 ? '-' + format(-datum.value, '.1f') : format(datum.value, '.1f')","tickSize":5,"labelPadding":12,"labelFontSize":19,"title":"E / V vs. Ag/AgCl","titleFontSize":20,"titleFontWeight":"bold","titlePadding":12}},
   "x2":{"datum":1.4},
   "y":{"datum":-109,"type":"quantitative","axis":{"orient":"left","offset":-106,"domain":false,"values":[-100,0,100,200],"labelExpr":"datum.value < 0 ? '-' + format(-datum.value, 'd') : format(datum.value, 'd')","tickSize":5,"labelPadding":11,"labelFontSize":19,"title":"I / µA","titleFontSize":20,"titleFontWeight":"bold","titlePadding":12}},
   "y2":{"datum":260}}},
 {"data":{"name":"cv"},"mark":{"type":"line","color":"black","strokeWidth":1.5},
  "encoding":{"x":{"field":"E","type":"quantitative","axis":{"orient":"bottom","offset":-68,"domain":false,"values":[-1.1,-0.9,-0.8,-0.7,-0.6,-0.4,-0.3,-0.2,-0.1,0.1,0.2,0.3,0.4,0.6,0.7,0.8,0.9,1.1,1.2,1.3,1.4],"labels":false,"tickSize":3,"title":null}},
   "y":{"field":"I","type":"quantitative","axis":{"orient":"left","offset":-106,"domain":false,"values":[-80,-60,-40,-20,20,40,60,80,120,140,160,180,220,240],"labels":false,"tickSize":3,"title":null}},
   "order":{"field":"i","type":"quantitative"},
   "strokeDash":{"field":"s","type":"nominal","scale":{"domain":["c1","c2"],"range":[[1,0],[7,4]]},"legend":null}}},
 {"data":{"values":[{"E":0.12,"I":-10.2,"E2":-0.18}]},"mark":{"type":"rule","color":"#333333","strokeWidth":1.3},
  "encoding":{"x":{"field":"E","type":"quantitative","axis":null},"x2":{"field":"E2"},"y":{"field":"I","type":"quantitative","axis":null}}},
 {"data":{"values":[{}]},"mark":{"type":"point","shape":"triangle","filled":true,"color":"#333333","opacity":1,"size":30,"angle":270},
  "encoding":{"x":{"datum":-0.19,"type":"quantitative","axis":null},"y":{"datum":-10.2,"type":"quantitative","axis":null}}},
 {"data":{"values":[{}]},"mark":{"type":"text","fontSize":22.5,"text":"C"},
  "encoding":{"x":{"datum":-1.127,"type":"quantitative","axis":null},"y":{"datum":239.4,"type":"quantitative","axis":null}}}
],"resolve":{"axis":{"x":"independent","y":"independent"}}}
]
}
